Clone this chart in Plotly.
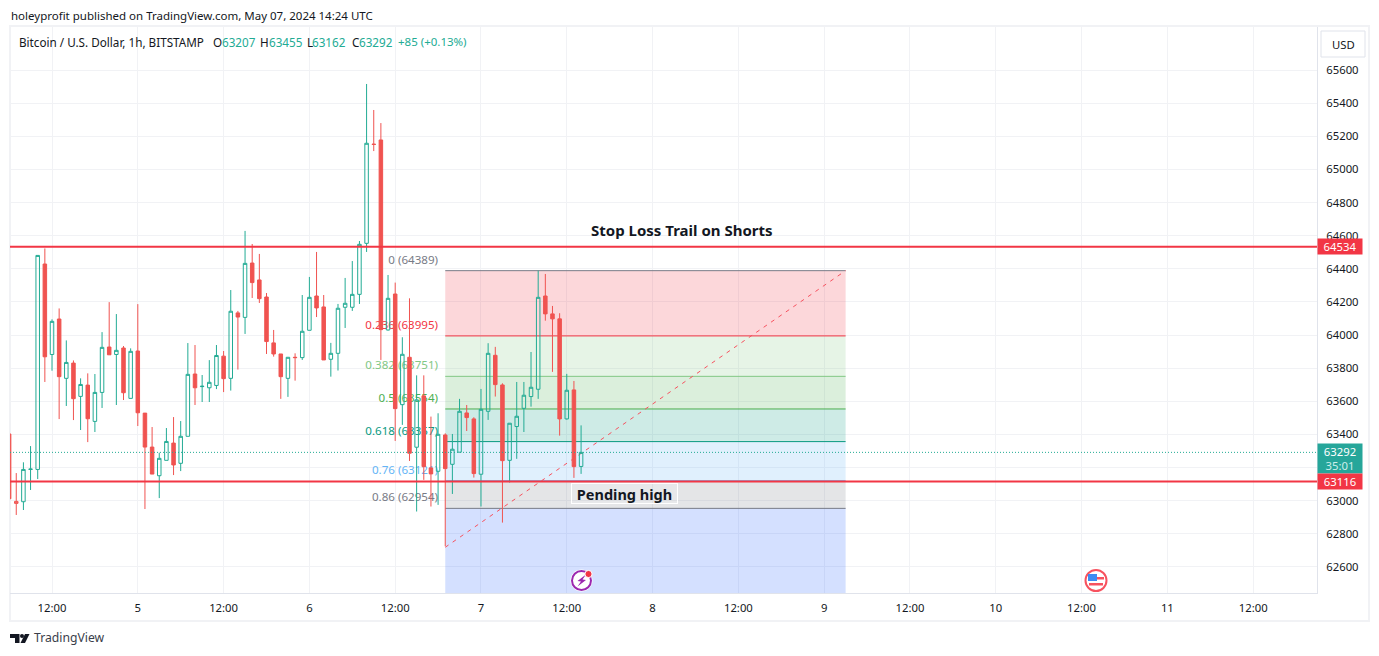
import plotly.graph_objects as go

# candles, one per hour counted from May 4 00:00
hours = list(range(6, 87))
opens = [63403, 62984, 62994, 63189, 63189, 64429, 63883, 64097, 63739, 63831, 63630, 63698, 63479, 63654,
         63928, 63883, 63922, 63618, 63904, 63529, 63324, 63151, 63244, 63348, 63226, 63389, 63765, 63689,
         63682, 63696, 63873, 63739, 64134, 64107, 64435, 64333, 64230, 63953, 63886, 63739, 63866, 63864,
         64029, 64236, 64170, 63854, 63890, 64168, 64168, 64246, 64554, 65153, 65178, 64031, 64248, 63580,
         63866, 63323, 63633, 63198, 63178, 63397, 63220, 63293, 63530, 63494, 63160, 63540, 63878, 63699,
         63244, 63448, 63558, 63629, 63673, 64236, 64128, 64098, 63494, 63669, 63207]
highs = [63403, 63167, 63232, 63330, 64481, 64523, 64095, 64161, 63968, 63847, 63739, 63769, 63765, 64018,
         64199, 64127, 63934, 63920, 64187, 63529, 63445, 63290, 63439, 63505, 63481, 63952, 63940, 63759,
         63849, 63940, 63904, 64272, 64146, 64629, 64550, 64490, 64254, 64031, 63886, 63866, 63890, 64242,
         64351, 64502, 64242, 63953, 64188, 64345, 64447, 64568, 65516, 65359, 65280, 64363, 64317, 63987,
         64222, 63757, 63757, 63508, 63528, 63407, 63403, 63615, 63578, 63504, 63675, 63951, 63929, 63709,
         63468, 63717, 63717, 63898, 64389, 64369, 64176, 64132, 63766, 63723, 63455]
lows = [63012, 62914, 62944, 63065, 63131, 63717, 63785, 63493, 63572, 63487, 63427, 63354, 63415, 63560,
        63881, 63578, 63608, 63618, 63451, 62950, 63161, 63016, 63244, 63155, 63179, 63389, 63578, 63596,
        63596, 63674, 63656, 63665, 63792, 64007, 64224, 64194, 63886, 63870, 63615, 63627, 63725, 63850,
        64029, 64109, 63850, 63749, 63786, 64043, 64146, 64188, 64502, 65111, 63850, 64027, 63361, 63458,
        63240, 62935, 63126, 62965, 62975, 62725, 63041, 63293, 63421, 63140, 62965, 63488, 63629, 62868,
        63110, 63253, 63415, 63568, 63615, 64087, 63778, 63393, 63490, 63138, 63162]
closes = [63012, 62996, 63189, 63191, 64481, 63869, 64083, 63749, 63835, 63616, 63702, 63495, 63654, 63926,
          63881, 63908, 63652, 63902, 63531, 63324, 63161, 63256, 63358, 63216, 63389, 63763, 63682, 63691,
          63715, 63877, 63737, 64144, 64109, 64433, 64317, 64220, 63961, 63886, 63749, 63866, 63864, 64023,
          64228, 64164, 63850, 63890, 64162, 64192, 64246, 64548, 65158, 65151, 64033, 64222, 63556, 63884,
          63287, 63609, 63206, 63162, 63401, 63194, 63311, 63540, 63502, 63164, 63552, 63890, 63701, 63242,
          63468, 63510, 63637, 63685, 64228, 64128, 64098, 63494, 63667, 63206, 63292]
# one candle closed up on its own open but below the previous close, so it is hollow red
hollow_red_hours = [7]

price_ticks = list(range(62600, 65800, 200))
# 63200 sits behind the last price tag, the grid line stays
price_tick_labels = ['' if p == 63200 else str(p) for p in price_ticks]
time_tick_hours = list(range(12, 181, 12))
time_tick_labels = ['12:00', '5', '12:00', '6', '12:00', '7', '12:00', '8',
                    '12:00', '9', '12:00', '10', '12:00', '11', '12:00']

fib_ratios = [0, 0.236, 0.382, 0.5, 0.618, 0.76, 0.86]
fib_prices = [64389, 63995, 63751, 63554, 63357, 63121, 62954]
fib_colors = ['120,123,134', '242,54,69', '129,199,132', '76,175,80', '8,153,129', '100,181,246', '120,123,134']
fib_bottom_color = '41,98,255'
fib_start = 67
fib_end = 123
fib_one_price = 62719
fib_label_lift = 25

stop_price = 64534
pending_price = 63116
last_price = 63292

TEAL = '#22ab94'
RED = '#f05350'
LINE_RED = '#f23645'
TEXT = '#131722'
GRID = '#f1f2f5'
FONT = 'Noto Sans'

# pane position on the page, everything outside it is placed relative to this
PAGE_X = 8
PAGE_Y = 8
PANE_L, PANE_R, PANE_T, PANE_B = 10, 1317, 27, 593


def paper_x(px):
    return (px - PANE_L) / (PANE_R - PANE_L)


def paper_y(px):
    return (PANE_B - px) / (PANE_B - PANE_T)


def poly(points):
    return 'M ' + ' L '.join('{:.5f} {:.5f}'.format(paper_x(x), paper_y(y)) for x, y in points) + ' Z'


def circle(cx, cy, r, **kwargs):
    return dict(type='circle', xref='paper', yref='paper', x0=paper_x(cx - r), x1=paper_x(cx + r),
                y0=paper_y(cy + r), y1=paper_y(cy - r), **kwargs)


def pixel_rect(x0, y0, x1, y1, **kwargs):
    return dict(type='rect', xref='paper', yref='paper', x0=paper_x(x0), x1=paper_x(x1),
                y0=paper_y(y1), y1=paper_y(y0), **kwargs)


def pixel_text(x, y, text, size=11.7, color=TEXT, anchor='left'):
    return dict(xref='paper', yref='paper', x=paper_x(x), y=paper_y(y), text=text, showarrow=False,
                xanchor=anchor, yanchor='middle', borderpad=0,
                font=dict(family=FONT, size=size, color=color))


def candle_trace(keep, up_color, down_color):
    picked = [i for i, h in enumerate(hours) if keep(i, h)]
    return go.Candlestick(
        x=[hours[i] for i in picked],
        open=[opens[i] for i in picked],
        high=[highs[i] for i in picked],
        low=[lows[i] for i in picked],
        close=[closes[i] for i in picked],
        xaxis='x2', yaxis='y2',
        increasing=dict(line=dict(color=up_color, width=1), fillcolor='rgba(0,0,0,0)'),
        decreasing=dict(line=dict(color=down_color, width=1), fillcolor=down_color),
        whiskerwidth=0,
        showlegend=False,
        hoverinfo='skip',
    )


def is_red(i, h):
    return closes[i] < opens[i] or h in hollow_red_hours


fib_labels = ['{} ({})'.format(r, p) for r, p in zip(fib_ratios, fib_prices)]

fig = go.Figure()
# fib labels sit on the lower axes so the candles cover them
for label, price, color in zip(fib_labels, fib_prices, fib_colors):
    fig.add_trace(go.Scatter(
        x=[fib_start - 1], y=[price + fib_label_lift], mode='text', text=[label], textposition='top left',
        textfont=dict(family=FONT, size=11.6, color='rgb({})'.format(color)),
        showlegend=False, hoverinfo='skip',
    ))
fig.add_trace(candle_trace(lambda i, h: not is_red(i, h), TEAL, TEAL))
fig.add_trace(candle_trace(is_red, RED, RED))

shapes = []
# fib bands
band_edges = fib_prices[1:] + [62300]
for i, top in enumerate(fib_prices):
    fill = fib_colors[i + 1] if i + 1 < len(fib_colors) else fib_bottom_color
    shapes.append(dict(type='rect', xref='x', yref='y', x0=fib_start, x1=fib_end, y0=band_edges[i], y1=top,
                       fillcolor='rgba({},0.2)'.format(fill), line_width=0, layer='between'))
    shapes.append(dict(type='line', xref='x', yref='y', x0=fib_start, x1=fib_end, y0=top, y1=top,
                       line=dict(color='rgb({})'.format(fib_colors[i]), width=1), layer='between'))
shapes.append(dict(type='line', xref='x', yref='y', x0=fib_start, x1=fib_end, y0=fib_one_price, y1=fib_prices[0],
                   line=dict(color='#f7525f', width=1, dash='4px,5px'), layer='between'))
# price lines
for price in [stop_price, pending_price]:
    shapes.append(dict(type='line', xref='paper', yref='y', x0=0, x1=1, y0=price, y1=price,
                       line=dict(color=LINE_RED, width=2)))
shapes.append(dict(type='line', xref='paper', yref='y', x0=0, x1=1, y0=last_price, y1=last_price,
                   line=dict(color=TEAL, width=1, dash='1px,2px')))
# frame around the chart and the currency button
shapes.append(pixel_rect(10, 26, 1369, 621, line=dict(color=GRID, width=2), layer='below'))
shapes.append(pixel_rect(1321, 31, 1365, 57, line=dict(color='#e0e3eb', width=1), fillcolor='white'))
# event icons on the pane floor
shapes.append(circle(581.5, 580.5, 11, fillcolor='white', line_width=0))
shapes.append(circle(581.5, 580.5, 9.5, fillcolor='white', line=dict(color='#9c27b0', width=2)))
shapes.append(dict(type='path', xref='paper', yref='paper', fillcolor='#9c27b0', line_width=0,
                   path=poly([(586, 574.5), (577.5, 581), (581, 581.5), (577.5, 586.5), (586, 580), (582.5, 579.5)])))
shapes.append(circle(588.5, 574, 3.6, fillcolor=LINE_RED, line=dict(color='white', width=1)))
shapes.append(circle(1096, 580.5, 10.5, fillcolor='white', line=dict(color='#f7525f', width=2)))
shapes.append(pixel_rect(1088, 577, 1104, 579.5, fillcolor='#f7525f', line_width=0))
shapes.append(pixel_rect(1089, 583, 1103, 585.5, fillcolor='#f7525f', line_width=0))
shapes.append(pixel_rect(1088, 574, 1097, 581, fillcolor='#3d8bf2', line_width=0))
# TradingView mark
shapes.append(dict(type='path', xref='paper', yref='paper', fillcolor=TEXT, line_width=0,
                   path=poly([(10, 634), (19.5, 634), (19.5, 643), (15, 643), (15, 638), (10, 638)])))
shapes.append(dict(type='path', xref='paper', yref='paper', fillcolor=TEXT, line_width=0,
                   path=poly([(25, 634), (29.5, 634), (25, 643), (20.5, 643)])))
shapes.append(circle(22, 636, 2, fillcolor=TEXT, line_width=0))

annotations = [
    pixel_text(10, 15, 'holeyprofit published on TradingView.com, May 07, 2024 14:24 UTC', size=11.5),
    pixel_text(18, 42, 'Bitcoin / U.S. Dollar, 1h, BITSTAMP'),
    pixel_text(212, 42, 'O'), pixel_text(221, 42, '63207', color=TEAL),
    pixel_text(259, 42, 'H'), pixel_text(268, 42, '63455', color=TEAL),
    pixel_text(306, 42, 'L'), pixel_text(311, 42, '63162', color=TEAL),
    pixel_text(351, 42, 'C'), pixel_text(358, 42, '63292', color=TEAL),
    pixel_text(397, 42, '+85 (+0.13%)', color=TEAL, size=11.5),
    pixel_text(1343, 44.5, 'USD', anchor='center', size=11.3),
    pixel_text(33, 638, 'TradingView', size=12.2, color='#3a3e4a'),
    dict(x=100.1, y=64634, text='<b>Stop Loss Trail on Shorts</b>', showarrow=False,
         font=dict(family=FONT, size=15, color=TEXT)),
    dict(x=92.1, y=63041, text='<b>Pending high</b>', showarrow=False, bgcolor='rgba(255,255,255,0.12)',
         bordercolor='white', borderwidth=1, borderpad=0, width=105, height=19,
         font=dict(family=FONT, size=14.5, color=TEXT)),
]
# price tags on the axis
tag = dict(xref='paper', x=1, xanchor='left', showarrow=False, width=44, align='center', borderpad=0)
annotations.append(dict(tag, y=stop_price, yanchor='middle', height=15, bgcolor=LINE_RED,
                        text=str(stop_price), font=dict(family=FONT, size=11.3, color='white')))
annotations.append(dict(tag, y=last_price, yanchor='top', yshift=9, height=29, bgcolor='#26a69a',
                        text='{}<br><span style="color:#cdeeea">35:01</span>'.format(last_price),
                        font=dict(family=FONT, size=11.3, color='white')))
annotations.append(dict(tag, y=pending_price, yanchor='middle', height=15, bgcolor=LINE_RED,
                        text=str(pending_price), font=dict(family=FONT, size=11.3, color='white')))

x_range = [6.125, 188.93]
y_range = [62443, 65860]
fig.update_layout(
    width=1379 - PAGE_X * 2, height=656 - PAGE_Y * 2, autosize=False,
    margin=dict(l=PANE_L - PAGE_X, r=1379 - PAGE_X - PANE_R, t=PANE_T - PAGE_Y, b=656 - PAGE_Y - PANE_B),
    paper_bgcolor='white', plot_bgcolor='white',
    font=dict(family=FONT, size=11.3, color=TEXT),
    showlegend=False,
    shapes=shapes, annotations=annotations,
    xaxis=dict(range=x_range, tickmode='array', tickvals=time_tick_hours, ticktext=time_tick_labels,
               showgrid=True, gridcolor=GRID, gridwidth=1, zeroline=False, showline=True, linecolor='#e0e3eb',
               ticks='outside', ticklen=4, tickcolor='rgba(0,0,0,0)', rangeslider=dict(visible=False)),
    yaxis=dict(range=y_range, side='right', tickmode='array', tickvals=price_ticks, ticktext=price_tick_labels,
               showgrid=True, gridcolor=GRID, gridwidth=1, zeroline=False, showline=True, linecolor='#e0e3eb',
               ticks='outside', ticklen=6, tickcolor='rgba(0,0,0,0)'),
    xaxis2=dict(overlaying='x', matches='x', visible=False, rangeslider=dict(visible=False)),
    yaxis2=dict(overlaying='y', matches='y', visible=False, side='right'),
)

fig.write_html("out.html")
